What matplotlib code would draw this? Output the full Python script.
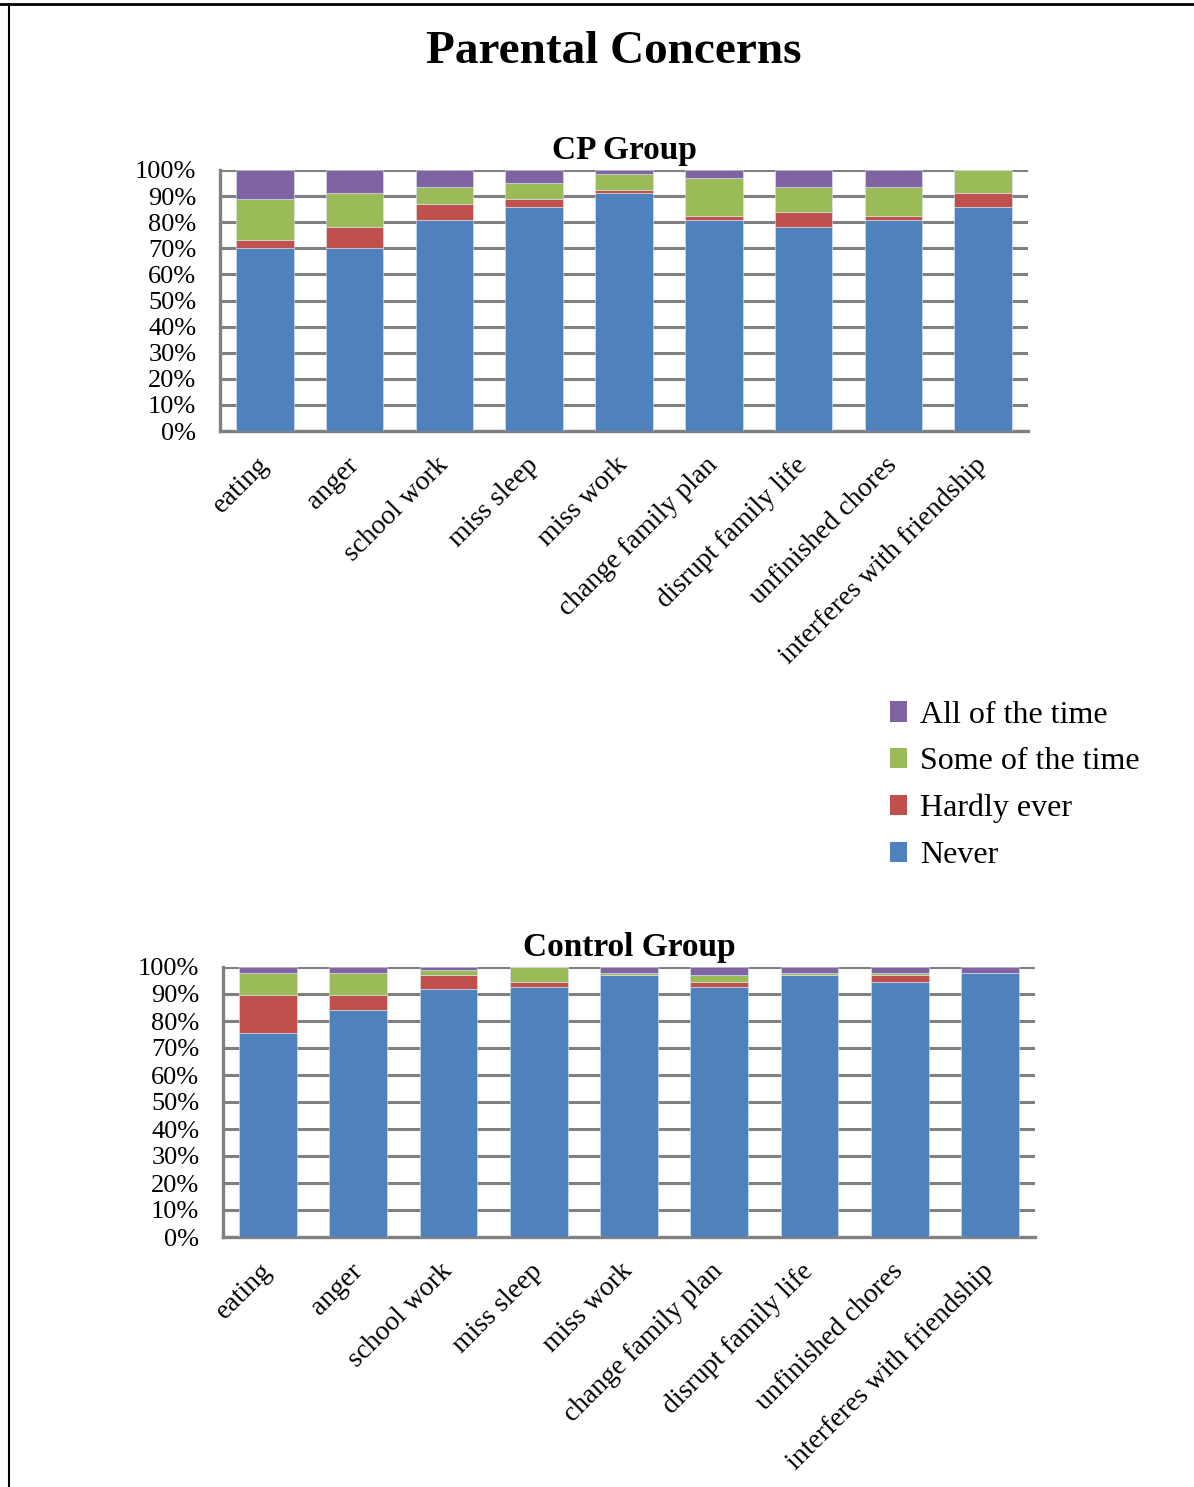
import matplotlib.pyplot as plt
import numpy as np
from matplotlib.lines import Line2D
from matplotlib.patches import Patch

plt.rcParams['font.family'] = ['Liberation Serif', 'DejaVu Serif']

# -----------------------------
# Data (percent of parents)
# -----------------------------
concerns = ["eating", "anger", "school work", "miss sleep", "miss work",
            "change family plan", "disrupt family life", "unfinished chores",
            "interferes with friendship"]

cp_never  = [70, 70, 81, 86, 91, 81, 78, 81, 86]
cp_hardly = [3, 8, 6, 3, 1.5, 1.5, 6, 1.5, 5]
cp_some   = [16, 13, 6.5, 6, 6, 14.5, 9.5, 11, 9]
cp_all    = [11, 9, 6.5, 5, 1.5, 3, 6.5, 6.5, 0]

ctrl_never  = [75.5, 84, 92, 92.6, 97, 92.6, 97, 94.4, 97.8]
ctrl_hardly = [14, 5.6, 5, 1.8, 0, 1.8, 0, 2.6, 0]
ctrl_some   = [8.3, 8.2, 1.9, 5.6, 0.8, 2.6, 0.8, 0.8, 0]
ctrl_all    = [2.2, 2.2, 1.1, 0, 2.2, 3, 2.2, 2.2, 2.2]

series_names = ["Never", "Hardly ever", "Some of the time", "All of the time"]
colors = ["#4F81BD", "#C0504D", "#9BBB59", "#8064A2"]
grid_grey = "#808080"


def stacked_panel(ax, layers, title):
    x = np.arange(len(concerns))
    bottom = np.zeros(len(concerns))
    for vals, c in zip(layers, colors):
        vals = np.array(vals, dtype=float)
        ax.bar(x, vals, bottom=bottom, width=0.64, color=c, zorder=3,
               edgecolor='#dce6f2', linewidth=0.4)
        bottom += vals
    ax.set_xlim(-0.5, len(concerns) - 0.5)
    ax.set_ylim(0, 100)
    ax.set_yticks(np.arange(0, 101, 10))
    ax.set_yticklabels([f"{v}%" for v in range(0, 101, 10)], fontsize=19)
    ax.set_xticks(x)
    ax.set_xticklabels(concerns, rotation=45, ha='right', va='center',
                       rotation_mode='anchor', fontsize=20)
    ax.tick_params(axis='y', length=0, pad=17)
    ax.tick_params(axis='x', length=0, pad=22)
    ax.yaxis.grid(True, color=grid_grey, linewidth=2.2, zorder=1)
    ax.set_axisbelow(True)
    for side in ['top', 'right']:
        ax.spines[side].set_visible(False)
    for side in ['left', 'bottom']:
        ax.spines[side].set_color(grid_grey)
        ax.spines[side].set_linewidth(2.4)
    ax.set_title(title, fontsize=24, fontweight='bold', pad=8)


fig = plt.figure(figsize=(11.94, 14.87), dpi=100)
W, H = 1194, 1487

# axes placed in pixel terms
ax1 = fig.add_axes([220 / W, 1 - 431 / H, (1028 - 220) / W, (431 - 170) / H])
ax2 = fig.add_axes([223 / W, 1 - 1237 / H, (1035 - 223) / W, (1237 - 967) / H])

stacked_panel(ax1, [cp_never, cp_hardly, cp_some, cp_all], "CP Group")
stacked_panel(ax2, [ctrl_never, ctrl_hardly, ctrl_some, ctrl_all], "Control Group")

fig.text(614 / W, 1 - 52 / H, "Parental Concerns", ha='center', va='center',
         fontsize=34, fontweight='bold')

handles = [Patch(facecolor=c) for c in colors][::-1]
fig.legend(handles, series_names[::-1], loc='upper left',
           bbox_to_anchor=(861 / W, 1 - 672 / H), frameon=False,
           fontsize=23, handlelength=0.55, handleheight=0.6,
           handletextpad=0.4, labelspacing=0.55)

# page frame lines
fig.add_artist(Line2D([0, 1], [1 - 4 / H, 1 - 4 / H], color='black', linewidth=2))
fig.add_artist(Line2D([9 / W, 9 / W], [0, 1 - 4 / H], color='black', linewidth=1.5))

fig.savefig("out.png", dpi=100)
